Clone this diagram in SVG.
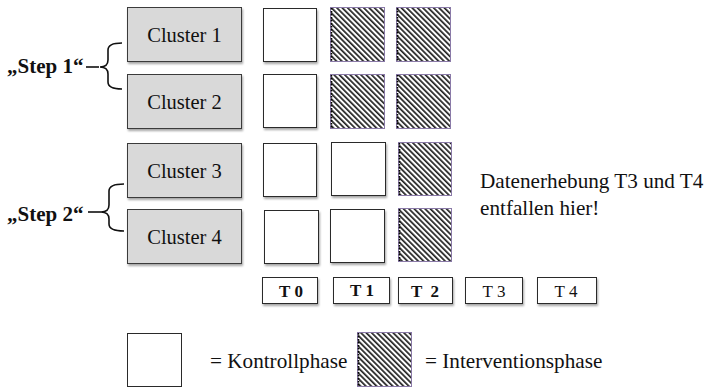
<svg xmlns="http://www.w3.org/2000/svg" width="704" height="389" viewBox="0 0 704 389" font-family="Liberation Serif, DejaVu Serif, Times New Roman, Times, serif">
<defs>
  <pattern id="hatch" patternUnits="userSpaceOnUse" width="3.8" height="3.8" patternTransform="rotate(-45)">
    <rect x="0" y="0" width="3.8" height="3.8" fill="#ffffff"/>
    <rect x="0" y="0" width="1.7" height="3.8" fill="#222222"/>
  </pattern>
  <filter id="sh" x="-10%" y="-10%" width="125%" height="130%">
    <feDropShadow dx="1" dy="2" stdDeviation="1" flood-color="#000" flood-opacity="0.35"/>
  </filter>
</defs>
<style>
  .cl { fill:#d9d9d9; stroke:#3a3a3a; stroke-width:1; filter:url(#sh); }
  .wb { fill:#ffffff; stroke:#2a2a2a; stroke-width:1; filter:url(#sh); }
  .hb { fill:url(#hatch); stroke:#8a7aa8; stroke-width:1; }
  .he { stroke:#000; stroke-width:1.6; stroke-dasharray:1.5 1.5; }
  .tb { fill:#ffffff; stroke:#2a2a2a; stroke-width:1; filter:url(#sh); }
  text { fill:#111; }
  .ct { font-size:20.5px; text-anchor:middle; }
  .st { font-size:21px; font-weight:bold; }
  .tl { font-size:17px; text-anchor:middle; }
  .lg { font-size:21.2px; }
  .br { fill:none; stroke:#111; stroke-width:1.6; }
</style>

<g id="cluster1">
  <rect class="cl" x="127.5" y="7.5" width="114" height="54"/>
  <text class="ct" x="184.5" y="42">Cluster 1</text>
</g>
<g id="cluster2">
  <rect class="cl" x="127.5" y="74.5" width="114" height="54"/>
  <text class="ct" x="184.5" y="109">Cluster 2</text>
</g>
<g id="cluster3">
  <rect class="cl" x="127.5" y="143.5" width="114" height="54"/>
  <text class="ct" x="184.5" y="178">Cluster 3</text>
</g>
<g id="cluster4">
  <rect class="cl" x="127.5" y="209.5" width="114" height="54"/>
  <text class="ct" x="184.5" y="244">Cluster 4</text>
</g>

<g id="step1">
  <text class="st" x="7" y="73">„Step 1“</text>
</g>
<g id="step2">
  <text class="st" x="7" y="221">„Step 2“</text>
</g>

<g id="phase-grid">
  <rect class="wb" x="263.5" y="8.5" width="53" height="53"/>
  <rect class="hb" x="330.5" y="7.5" width="54" height="54"/>
  <line class="he" x1="331.5" y1="8" x2="331.5" y2="61"/>
  <rect class="hb" x="396.5" y="7.5" width="54" height="54"/>
  <line class="he" x1="397.5" y1="8" x2="397.5" y2="61"/>

  <rect class="wb" x="263.5" y="74.5" width="53" height="53"/>
  <rect class="hb" x="330.5" y="74.5" width="54" height="54"/>
  <line class="he" x1="331.5" y1="75" x2="331.5" y2="128"/>
  <rect class="hb" x="396.5" y="74.5" width="54" height="54"/>
  <line class="he" x1="397.5" y1="75" x2="397.5" y2="128"/>

  <rect class="wb" x="263.5" y="143.5" width="53" height="53"/>
  <rect class="wb" x="331.5" y="142.5" width="54" height="53"/>
  <rect class="hb" x="398.5" y="142.5" width="53" height="53"/>
  <line class="he" x1="399.5" y1="143" x2="399.5" y2="195"/>

  <rect class="wb" x="264.5" y="210.5" width="54" height="53"/>
  <rect class="wb" x="330.5" y="209.5" width="54" height="53"/>
  <rect class="hb" x="398.5" y="208.5" width="53" height="53"/>
  <line class="he" x1="399.5" y1="209" x2="399.5" y2="261"/>
</g>

<g id="timepoints">
  <rect class="tb" x="262.5" y="277.5" width="55" height="26"/>
  <text class="tl" x="291" y="297" font-weight="bold">T 0</text>
  <rect class="tb" x="333.5" y="277.5" width="56" height="26"/>
  <text class="tl" x="362" y="296" font-weight="bold">T 1</text>
  <rect class="tb" x="398.5" y="277.5" width="54" height="26"/>
  <text class="tl" x="425" y="297" font-weight="bold" xml:space="preserve">T  2</text>
  <rect class="tb" x="465.5" y="277.5" width="57" height="26"/>
  <text class="tl" x="494" y="297">T 3</text>
  <rect class="tb" x="537.5" y="277.5" width="59" height="26"/>
  <text class="tl" x="566" y="297">T 4</text>
</g>

<g id="note">
  <text class="lg" x="480" y="188">Datenerhebung T3 und T4</text>
  <text class="lg" x="480" y="215">entfallen hier!</text>
</g>

<g id="legend">
  <rect class="wb" x="127.5" y="333.5" width="54" height="53" style="filter:none"/>
  <text class="lg" x="210" y="368">= Kontrollphase</text>
  <rect class="hb" x="357.5" y="332.5" width="54" height="54"/>
  <line class="he" x1="358.5" y1="333" x2="358.5" y2="386"/>
  <text class="lg" x="425" y="368">= Interventionsphase</text>
</g>

<g id="connectors">
  <line class="br" x1="86" y1="67" x2="99" y2="67"/>
  <path class="br" d="M122,43 Q108,43 108,50 L108,60 Q108,67 100,67 Q108,67 108,74 L108,82 Q108,89 122,89"/>
  <line class="br" x1="88" y1="212" x2="101" y2="212"/>
  <path class="br" d="M124,184 Q109,184 109,191 L109,205 Q109,212 101,212 Q109,212 109,219 L109,224 Q109,231 124,231"/>
</g>
</svg>
